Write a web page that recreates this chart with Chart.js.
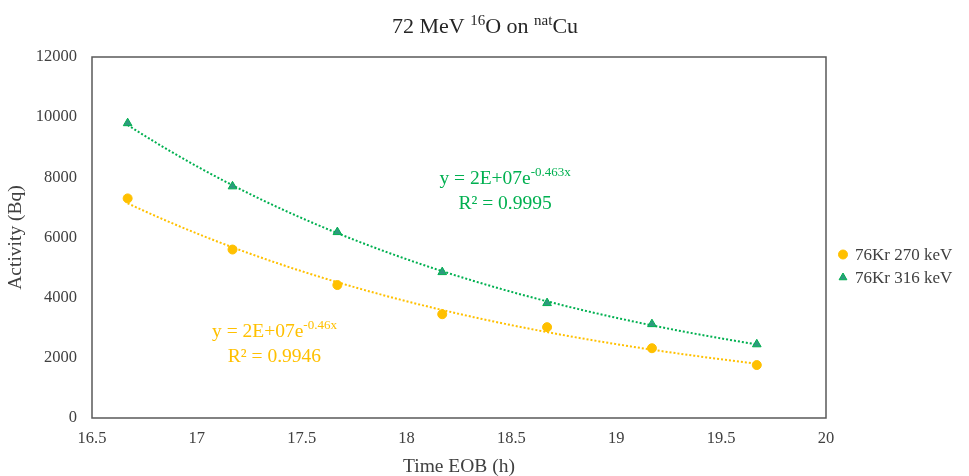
<!DOCTYPE html>
<html>
<head>
<meta charset="utf-8">
<script src="https://cdn.jsdelivr.net/npm/chart.js@4.4.1/dist/chart.umd.min.js"></script>
<style>
  html, body { margin: 0; padding: 0; background: #fff; }
  #wrap { width: 969px; height: 476px; }
</style>
</head>
<body>
<div id="wrap"><canvas id="activityChart" width="969" height="476"></canvas></div>
<script>
// values
const timeEOB = [16.67, 17.17, 17.67, 18.17, 18.67, 19.17, 19.67];
const kr270 = [7300, 5600, 4420, 3450, 3020, 2320, 1760];
const kr316 = [9800, 7700, 6180, 4850, 3820, 3120, 2450];
const xTicks = [16.5, 17, 17.5, 18, 18.5, 19, 19.5, 20];
const yTicks = [0, 2000, 4000, 6000, 8000, 10000, 12000];
const seriesNames = ["76Kr 270 keV", "76Kr 316 keV"];

const SERIF = "'Liberation Serif', 'DejaVu Serif', serif";
const ORANGE = '#FFC000';
const GREEN = '#00B050';
const TEXT = '#404040';

// exponential trendline, least squares on ln(y) like Excel does
function expFit(xs, ys) {
    const n = xs.length;
    let sx = 0, sy = 0, sxx = 0, sxy = 0;
    xs.forEach((x, i) => {
        const ly = Math.log(ys[i]);
        sx += x; sy += ly; sxx += x * x; sxy += x * ly;
    });
    const b = (n * sxy - sx * sy) / (n * sxx - sx * sx);
    const a = Math.exp((sy - b * sx) / n);
    return { a, b };
}

function trendPoints(xs, ys) {
    const fit = expFit(xs, ys);
    const x0 = xs[0], x1 = xs[xs.length - 1];
    const pts = [];
    for (let i = 0; i <= 60; i++) {
        const x = x0 + (x1 - x0) * i / 60;
        pts.push({ x, y: fit.a * Math.exp(fit.b * x) });
    }
    return pts;
}

const toPoints = (xs, ys) => xs.map((x, i) => ({ x, y: ys[i] }));

// draws text pieces, some raised as superscripts, centred on cx
function drawRich(ctx, parts, cx, baseline, size, color) {
    const supSize = Math.round(size * 0.68);
    let total = 0;
    parts.forEach(p => {
        ctx.font = `${p.sup ? supSize : size}px ${SERIF}`;
        p.w = ctx.measureText(p.t).width;
        total += p.w;
    });
    let x = cx - total / 2;
    ctx.fillStyle = color;
    ctx.textAlign = 'left';
    ctx.textBaseline = 'alphabetic';
    parts.forEach(p => {
        ctx.font = `${p.sup ? supSize : size}px ${SERIF}`;
        ctx.fillText(p.t, x, p.sup ? baseline - size * 0.38 : baseline);
        x += p.w;
    });
}

const frameAndText = {
    id: 'frameAndText',
    beforeDatasetsDraw(chart) {
        const { ctx, chartArea: a } = chart;
        ctx.save();
        ctx.strokeStyle = '#595959';
        ctx.lineWidth = 1.5;
        ctx.strokeRect(a.left, a.top, a.right - a.left, a.bottom - a.top);
        ctx.restore();
    },
    afterDraw(chart) {
        const { ctx, chartArea: a, scales } = chart;
        const sx = scales.x, sy = scales.y;
        ctx.save();

        // title
        drawRich(ctx, [
            { t: '72 MeV ' }, { t: '16', sup: true }, { t: 'O on ' },
            { t: 'nat', sup: true }, { t: 'Cu' }
        ], 485, 33, 22, '#262626');

        // fit equations
        const gx = sx.getPixelForValue(18.47), gy = sy.getPixelForValue(7790);
        drawRich(ctx, [{ t: 'y = 2E+07e' }, { t: '-0.463x', sup: true }], gx, gy, 19.5, GREEN);
        drawRich(ctx, [{ t: 'R² = 0.9995' }], gx, gy + 25, 19.5, GREEN);

        const ox = sx.getPixelForValue(17.37), oy = sy.getPixelForValue(2700);
        drawRich(ctx, [{ t: 'y = 2E+07e' }, { t: '-0.46x', sup: true }], ox, oy, 19.5, ORANGE);
        drawRich(ctx, [{ t: 'R² = 0.9946' }], ox, oy + 25, 19.5, ORANGE);

        // legend
        const lx = a.right + 17;
        const ly = (a.top + a.bottom) / 2 + 17;
        chart.data.datasets.slice(0, 2).forEach((ds, i) => {
            const y = ly + i * 23;
            ctx.fillStyle = ds.backgroundColor;
            ctx.strokeStyle = ds.borderColor;
            ctx.lineWidth = 1;
            Chart.helpers.drawPoint(ctx, { pointStyle: ds.pointStyle, radius: 4.5, borderWidth: 1 }, lx, y);
            ctx.font = `17px ${SERIF}`;
            ctx.fillStyle = TEXT;
            ctx.textAlign = 'left';
            ctx.textBaseline = 'middle';
            ctx.fillText(seriesNames[i], lx + 12, y + 1);
        });
        ctx.restore();
    }
};

new Chart(document.getElementById('activityChart'), {
    type: 'scatter',
    data: {
        datasets: [
            {
                label: seriesNames[0],
                data: toPoints(timeEOB, kr270),
                pointStyle: 'circle',
                pointRadius: 4.5,
                backgroundColor: ORANGE,
                borderColor: ORANGE,
                borderWidth: 1,
                order: 1
            },
            {
                label: seriesNames[1],
                data: toPoints(timeEOB, kr316),
                pointStyle: 'triangle',
                pointRadius: 5,
                backgroundColor: '#2E9A7E',
                borderColor: GREEN,
                borderWidth: 1,
                order: 1
            },
            {
                label: 'trend 270',
                data: trendPoints(timeEOB, kr270),
                showLine: true,
                pointRadius: 0,
                borderColor: ORANGE,
                borderWidth: 2,
                borderDash: [2, 2],
                order: 2
            },
            {
                label: 'trend 316',
                data: trendPoints(timeEOB, kr316),
                showLine: true,
                pointRadius: 0,
                borderColor: GREEN,
                borderWidth: 2,
                borderDash: [2, 2],
                order: 2
            }
        ]
    },
    options: {
        responsive: false,
        animation: false,
        layout: { padding: { top: 57, right: 143, left: 0, bottom: 0 } },
        plugins: {
            legend: { display: false },
            title: { display: false },
            tooltip: { enabled: false }
        },
        scales: {
            x: {
                type: 'linear',
                min: 16.5,
                max: 20,
                afterBuildTicks: s => { s.ticks = xTicks.map(v => ({ value: v })); },
                afterFit: s => { s.height = 58; },
                grid: { display: false, drawTicks: false },
                border: { display: false },
                ticks: {
                    padding: 11,
                    color: TEXT,
                    font: { family: SERIF, size: 16.5 },
                    callback: v => String(v)
                },
                title: {
                    display: true,
                    text: 'Time EOB (h)',
                    color: TEXT,
                    font: { family: SERIF, size: 19.5 },
                    padding: { top: 4, bottom: -3 }
                }
            },
            y: {
                min: 0,
                max: 12000,
                afterBuildTicks: s => { s.ticks = yTicks.map(v => ({ value: v })); },
                afterFit: s => { s.width = 92; },
                grid: { display: false, drawTicks: false },
                border: { display: false },
                ticks: {
                    padding: 15,
                    color: TEXT,
                    font: { family: SERIF, size: 16.5 },
                    callback: v => String(v)
                },
                title: {
                    display: true,
                    text: 'Activity (Bq)',
                    color: TEXT,
                    font: { family: SERIF, size: 19.5 },
                    padding: { bottom: 0 }
                }
            }
        }
    },
    plugins: [frameAndText]
});
</script>
</body>
</html>
